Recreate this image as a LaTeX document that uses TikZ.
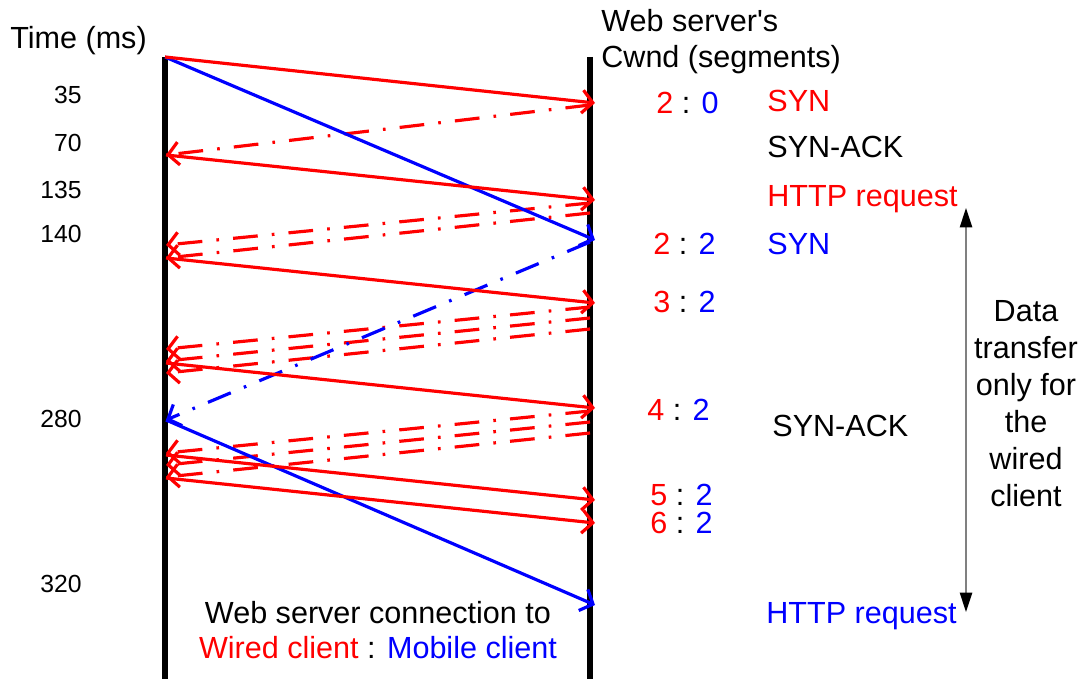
\documentclass[tikz,border=0pt]{standalone}
\usepackage{fontspec}
\setmainfont{Liberation Sans}
\usetikzlibrary{arrows.meta}

\tikzset{
  wired/.style={red, line width=1.8pt, -{Straight Barb[length=6pt,width=13pt]}},
  mobile/.style={blue, line width=1.8pt, -{Straight Barb[length=6pt,width=13pt]}},
  ack/.style={dash pattern=on 14pt off 8pt on 1.5pt off 8pt},
  host/.style={line width=3.2pt},
  tick/.style={anchor=base east, font=\fontsize{14}{17}\selectfont},
  cwnd/.style={anchor=base west},
  msg/.style={anchor=base west}
}

\begin{document}
\begin{tikzpicture}[x=0.566pt, y=-0.566pt,
    every node/.style={inner sep=0pt, font=\fontsize{17.3}{20.5}\selectfont}]
      \useasboundingbox (0,0) rectangle (1086,679);
      \draw
        (10,49) node[anchor=base west] (time){Time (ms)}
        (82,104) node[tick] (t35){35}
        (82,152) node[tick] (t70){70}
        (82,199) node[tick] (t135){135}
        (82,243) node[tick] (t140){140}
        (82,427) node[tick] (t280){280}
        (82,592) node[tick] (t320){320}
        (601,9) node[anchor=north west, align=left] (cwnd){Web server\textquotesingle s\\Cwnd (segments)}
        (656,114) node[cwnd] (w1){\textcolor{red}{2} : \textcolor{blue}{0}}
        (653,255) node[cwnd] (w2){\textcolor{red}{2} : \textcolor{blue}{2}}
        (653,313) node[cwnd] (w3){\textcolor{red}{3} : \textcolor{blue}{2}}
        (647,421) node[cwnd] (w4){\textcolor{red}{4} : \textcolor{blue}{2}}
        (650,505) node[cwnd] (w5){\textcolor{red}{5} : \textcolor{blue}{2}}
        (650,533) node[cwnd] (w6){\textcolor{red}{6} : \textcolor{blue}{2}}
        (767,112) node[msg, red] (syn1){SYN}
        (767,158) node[msg] (synack1){SYN-ACK}
        (767,207) node[msg, red] (http1){HTTP request}
        (767,255) node[msg, blue] (syn2){SYN}
        (772,436) node[msg] (synack2){SYN-ACK}
        (766,623) node[msg, blue] (http2){HTTP request}
        (1026,300) node[anchor=north, align=center, font=\fontsize{17.3}{21}\selectfont] (note){Data\\transfer\\only for\\the\\wired\\client}
        (378,601) node[anchor=north, align=center, font=\fontsize{17.3}{19.8}\selectfont] (legend){Web server connection to\\\textcolor{red}{Wired client} : \textcolor{blue}{Mobile client}};
      \path
        (165,57) coordinate (c57)
        (166,155) coordinate (c155)
        (166,245) coordinate (c245)
        (166,258) coordinate (c258)
        (166,349) coordinate (c349)
        (166,361) coordinate (c361)
        (166,363) coordinate (c363)
        (166,373) coordinate (c373)
        (166,420) coordinate (c420)
        (166,453) coordinate (c453)
        (166,455) coordinate (c455)
        (166,465) coordinate (c465)
        (166,477) coordinate (c477)
        (166,478) coordinate (c478)
        (165,679) coordinate (cend)
        (590,57) coordinate (s57)
        (595,103) coordinate (s103)
        (590,105) coordinate (s105)
        (595,200) coordinate (s200)
        (590,203) coordinate (s203)
        (590,213) coordinate (s213)
        (595,240) coordinate (s240)
        (590,242) coordinate (s242)
        (595,303) coordinate (s303)
        (590,307) coordinate (s307)
        (590,318) coordinate (s318)
        (590,329) coordinate (s329)
        (595,408) coordinate (s408)
        (590,411) coordinate (s411)
        (590,422) coordinate (s422)
        (590,433) coordinate (s433)
        (595,500) coordinate (s500)
        (595,523) coordinate (s523)
        (595,605) coordinate (s605)
        (590,679) coordinate (send)
        (966,208) coordinate (dtop)
        (966,612) coordinate (dbot);
      \draw[host] (c57) -- (cend);
      \draw[host] (s57) -- (send);
      \draw[gray, line width=0.8pt, {Triangle[black,length=11pt,width=7pt]}-{Triangle[black,length=11pt,width=7pt]}] (dtop) -- (dbot);
      \begin{scope}[wired, ack]
        \draw (s105) to (c155);
        \draw (s203) to (c245);
        \draw (s213) to (c258);
        \draw (s307) to (c349);
        \draw (s318) to (c361);
        \draw (s329) to (c373);
        \draw (s411) to (c453);
        \draw (s422) to (c465);
        \draw (s433) to (c477);
      \end{scope}
      \begin{scope}[mobile]
        \draw (c57) to (s240);
        \draw[ack] (s242) to (c420);
        \draw (c420) to (s605);
      \end{scope}
      \begin{scope}[wired]
        \draw (c57) to (s103);
        \draw (c155) to (s200);
        \draw (c258) to (s303);
        \draw (c363) to (s408);
        \draw (c455) to (s500);
        \draw (c478) to (s523);
      \end{scope}
    \end{tikzpicture}
\end{document}
